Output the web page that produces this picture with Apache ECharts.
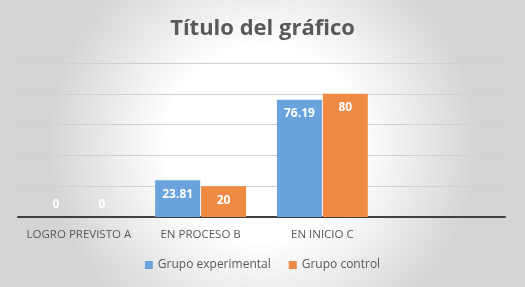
<!DOCTYPE html>
<html style="height: 100%">
<head>
<meta charset="utf-8">
<title>Título del gráfico</title>
<script src="https://cdn.jsdelivr.net/npm/echarts@6/dist/echarts.min.js"></script>
</head>
<body style="height: 100%; margin: 0">
<div id="container" style="width: 525px; height: 287px"></div>
<script type="text/javascript">
var categorias = ['LOGRO PREVISTO A', 'EN PROCESO B', 'EN INICIO C', ''];
var experimental = [0, 23.81, 76.19, '-'];
var control = [0, 20, 80, '-'];

var chart = echarts.init(document.getElementById('container'));

// etiquetas dentro del extremo; los ceros van encima del eje
function puntos(arr) {
    return arr.map(function (v) {
        if (v === 0) {
            return { value: v, label: { position: 'top', distance: 6 } };
        }
        return v;
    });
}

var etiqueta = {
    show: true,
    position: 'insideTop',
    distance: 8,
    color: '#ffffff',
    fontWeight: 'bold',
    fontSize: 12,
    fontFamily: 'Open Sans'
};

var option = {
    backgroundColor: {
        type: 'radial', x: 0.5, y: 0.5, r: 0.75,
        colorStops: [
            { offset: 0, color: '#ffffff' },
            { offset: 0.45, color: '#ffffff' },
            { offset: 1, color: '#d4d4d4' }
        ]
    },
    title: {
        text: 'Título del gráfico',
        left: 'center',
        top: 13,
        textStyle: { fontFamily: 'Open Sans', fontSize: 22, fontWeight: 'bold', color: '#595959' }
    },
    legend: {
        bottom: 11,
        left: 'center',
        itemWidth: 8,
        itemHeight: 8,
        itemGap: 18,
        icon: 'rect',
        textStyle: { fontFamily: 'Open Sans', fontSize: 12, color: '#595959' },
        data: ['Grupo experimental', 'Grupo control']
    },
    grid: { left: 18, right: 20, top: 63, bottom: 70 },
    xAxis: {
        type: 'category',
        data: categorias,
        axisLine: { lineStyle: { color: '#404040', width: 2 } },
        axisTick: { show: false },
        axisLabel: { interval: 0, fontFamily: 'Open Sans', fontSize: 11.5, color: '#595959', margin: 12 }
    },
    yAxis: {
        type: 'value',
        min: 0,
        max: 100,
        interval: 20,
        axisLabel: { show: false },
        axisLine: { show: false },
        axisTick: { show: false },
        splitLine: { lineStyle: { color: '#d0d0d0', width: 1 } }
    },
    series: [
        {
            name: 'Grupo experimental',
            type: 'bar',
            data: puntos(experimental),
            barWidth: 45,
            barGap: '2%',
            itemStyle: { color: '#6aa3db' },
            label: etiqueta
        },
        {
            name: 'Grupo control',
            type: 'bar',
            data: puntos(control),
            barWidth: 45,
            itemStyle: { color: '#ef8a45' },
            label: etiqueta
        }
    ]
};

chart.setOption(option);
</script>
</body>
</html>
